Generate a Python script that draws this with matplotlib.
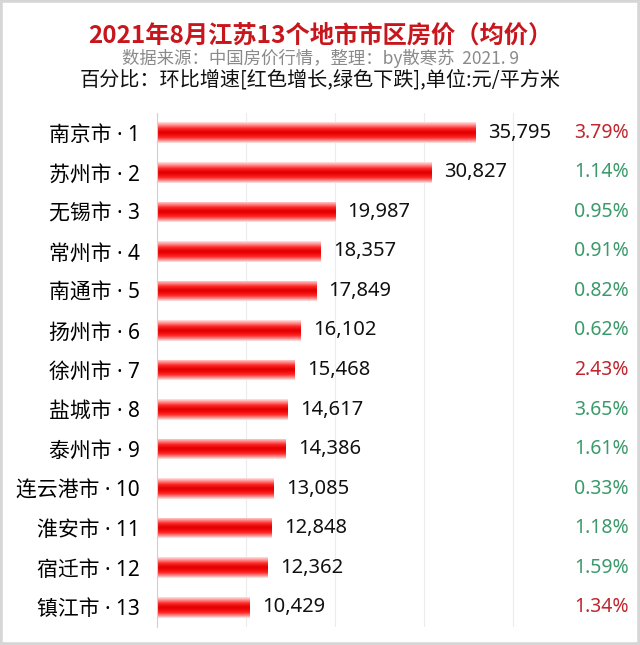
import matplotlib
matplotlib.use("Agg")
import matplotlib.pyplot as plt
import numpy as np
from matplotlib.colors import LinearSegmentedColormap
from matplotlib.patches import Rectangle
import matplotlib.transforms as mtransforms

plt.rcParams['font.family'] = ['Noto Sans CJK SC', 'DejaVu Sans']
LATIN_FIRST = ['Noto Sans', 'Noto Sans CJK SC']

# data
cities = ['南京市', '苏州市', '无锡市', '常州市', '南通市', '扬州市', '徐州市',
          '盐城市', '泰州市', '连云港市', '淮安市', '宿迁市', '镇江市']
prices = [35795, 30827, 19987, 18357, 17849, 16102, 15468,
          14617, 14386, 13085, 12848, 12362, 10429]
growth = [3.79, 1.14, 0.95, 0.91, 0.82, 0.62, 2.43,
          3.65, 1.61, 0.33, 1.18, 1.59, 1.34]
is_red = [True, False, False, False, False, False, True,
          False, False, False, False, False, True]

title = '2021年8月江苏13个地市市区房价（均价）'
subtitle = '数据来源：中国房价行情，整理：by散寒苏  2021. 9'
note = '百分比：环比增速[红色增长,绿色下跌],单位:元/平方米'

RED = '#c0262d'
GREEN = '#3b9a6b'

fig = plt.figure(figsize=(6.4, 6.45), dpi=100)
ax = fig.add_axes([157 / 640, 1 - 627 / 645, 475 / 640, 514 / 645])

# glossy tube look for bars
tube = LinearSegmentedColormap.from_list('tube', [
    (0.00, (1.0, 0.88, 0.88)),
    (0.14, (1.0, 0.55, 0.55)),
    (0.30, (1.0, 0.15, 0.15)),
    (0.47, (0.88, 0.0, 0.0)),
    (0.58, (0.92, 0.02, 0.02)),
    (0.74, (1.0, 0.15, 0.15)),
    (0.88, (1.0, 0.52, 0.52)),
    (1.00, (1.0, 0.90, 0.90)),
])
grad = np.linspace(0, 1, 64).reshape(-1, 1)

y = np.arange(len(cities))
bars = ax.barh(y, prices, height=0.52, color='none', edgecolor='none')
for bar in bars:
    x0, y0 = bar.get_x(), bar.get_y()
    w, h = bar.get_width(), bar.get_height()
    im = ax.imshow(grad, cmap=tube, aspect='auto', origin='upper',
                   extent=(x0, x0 + w, y0 + h, y0), zorder=2)
    im.set_clip_path(bar)

ax.set_xlim(0, 53300)
ax.set_ylim(len(cities) - 0.5, -0.5)
ax.set_xticks([10000, 20000, 30000, 40000])
ax.grid(axis='x', color='#ececec', lw=0.8, zorder=0)
ax.tick_params(axis='x', bottom=False, labelbottom=False)
ax.tick_params(axis='y', left=False, pad=9)
ax.set_yticks(y)
ax.set_yticklabels([f'{c} · {i + 1}' for i, c in enumerate(cities)],
                   family=LATIN_FIRST, fontsize=15)
for s in ['top', 'right', 'bottom']:
    ax.spines[s].set_visible(False)
ax.spines['left'].set_color('#cfcfcf')

# value labels
for bar, v in zip(bars, prices):
    ax.annotate(f'{v:,}', (bar.get_width(), bar.get_y() + bar.get_height() / 2),
                xytext=(9, 0), textcoords='offset points', va='center',
                ha='left', fontsize=14.5, color='#111111', family=LATIN_FIRST)

# percentage labels on the right
trans = mtransforms.blended_transform_factory(fig.transFigure, ax.transData)
for yi, g, r in zip(y, growth, is_red):
    ax.text(629 / 640, yi, f'{g:.2f}%', transform=trans, ha='right',
            va='center', fontsize=14, color=RED if r else GREEN,
            family=LATIN_FIRST)

fig.text(0.5, 1 - 36 / 645, title, ha='center', va='center', fontsize=17.5,
         fontweight='bold', color='#c8161d')
fig.text(0.5, 1 - 58 / 645, subtitle, ha='center', va='center', fontsize=12.5,
         color='#8a8a8a')
fig.text(0.5, 1 - 80 / 645, note, ha='center', va='center', fontsize=14.5,
         color='#111111')

fig.patches.append(Rectangle((0, 0), 1, 1, transform=fig.transFigure,
                             fill=False, edgecolor='#d6d6d6', lw=4))

fig.savefig('out.png', dpi=100)
